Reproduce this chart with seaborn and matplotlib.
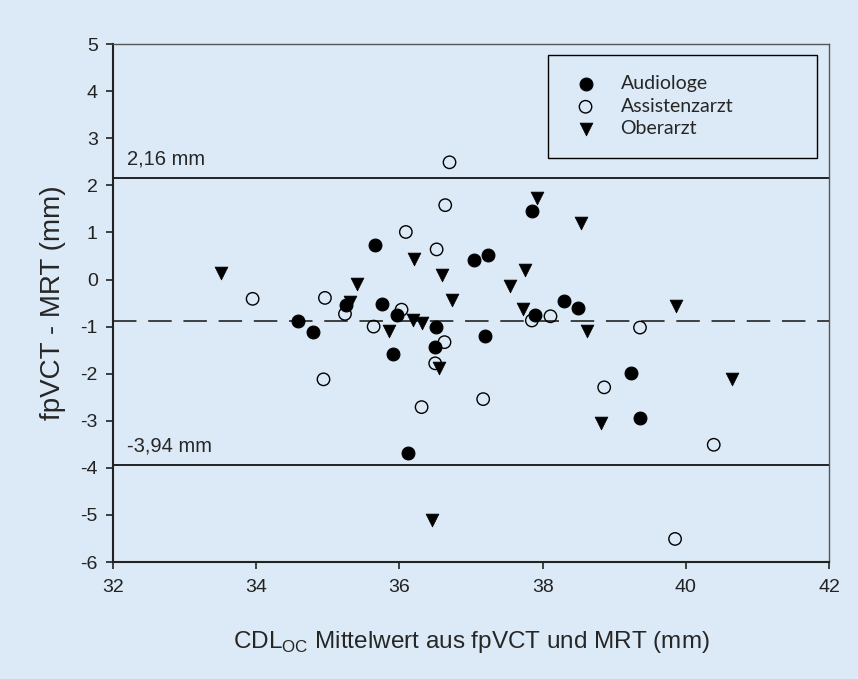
import pandas as pd
import seaborn as sns
from matplotlib import pyplot as plt

# Werte (Mittelwert, Differenz)
audio_x = [34.59, 34.79, 35.26, 35.66, 35.76, 35.96, 35.91, 36.51, 36.50, 36.12,
           37.04, 37.24, 37.19, 37.85, 37.89, 38.30, 38.49, 39.24, 39.36]
audio_y = [-0.88, -1.11, -0.55, 0.73, -0.53, -0.76, -1.58, -1.00, -1.43, -3.69,
           0.42, 0.52, -1.21, 1.46, -0.75, -0.46, -0.61, -1.99, -2.94]

assist_x = [33.95, 34.96, 34.94, 35.24, 35.64, 36.03, 36.09, 36.52, 36.64, 36.70,
            36.63, 36.50, 36.31, 37.17, 37.85, 38.11, 38.86, 39.36, 40.39, 39.85]
assist_y = [-0.41, -0.39, -2.12, -0.73, -1.00, -0.64, 1.01, 0.64, 1.58, 2.49,
            -1.33, -1.78, -2.71, -2.54, -0.87, -0.78, -2.29, -1.02, -3.51, -5.51]

ober_x = [33.51, 35.31, 35.41, 35.85, 36.19, 36.31, 36.20, 36.60, 36.73, 36.55,
          36.46, 37.55, 37.75, 37.73, 37.92, 38.53, 38.62, 38.81, 39.86, 40.65]
ober_y = [0.14, -0.48, -0.10, -1.10, -0.85, -0.92, 0.44, 0.10, -0.43, -1.87,
          -5.11, -0.14, 0.21, -0.62, 1.73, 1.20, -1.10, -3.05, -0.57, -2.11]

upper_loa = 2.16
lower_loa = -3.94
mean_diff = -0.89
x_ticks = [32, 34, 36, 38, 40, 42]
y_ticks = [5, 4, 3, 2, 1, 0, -1, -2, -3, -4, -5, -6]

bg = '#dce9f6'
sns.set_style('ticks')
plt.rcParams['font.family'] = ['Liberation Sans', 'DejaVu Sans']
plt.rcParams['axes.unicode_minus'] = False

df_a = pd.DataFrame({'x': audio_x, 'y': audio_y})
df_b = pd.DataFrame({'x': assist_x, 'y': assist_y})
df_c = pd.DataFrame({'x': ober_x, 'y': ober_y})

fig = plt.figure(figsize=(8.58, 6.79), dpi=100, facecolor=bg)
ax = fig.add_axes([0.1317, 0.1723, 0.8345, 0.7627])
ax.set_facecolor(bg)

ax.axhline(upper_loa, color='#222222', lw=1.4, zorder=1)
ax.axhline(lower_loa, color='#222222', lw=1.4, zorder=1)
ax.axhline(mean_diff, color='#333333', lw=1.3, dashes=(13, 6.5), zorder=1)

sns.scatterplot(data=df_a, x='x', y='y', ax=ax, marker='o', s=85, color='black',
                edgecolor='black', linewidth=0.8, label='Audiologe', zorder=3)
sns.scatterplot(data=df_b, x='x', y='y', ax=ax, marker='o', s=80, facecolor='none',
                edgecolor='black', linewidth=1.0, label='Assistenzarzt', zorder=3)
sns.scatterplot(data=df_c, x='x', y='y', ax=ax, marker='v', s=85, color='black',
                edgecolor='black', linewidth=0.5, label='Oberarzt', zorder=3)

ax.text(32.2, upper_loa + 0.2, '2,16 mm', fontsize=14.5, va='bottom', ha='left')
ax.text(32.2, lower_loa + 0.21, '-3,94 mm', fontsize=14.5, va='bottom', ha='left')

ax.set_xlim(32, 42)
ax.set_ylim(-6, 5)
ax.set_xticks(x_ticks)
ax.set_yticks(y_ticks)
ax.tick_params(direction='out', length=5, width=1.2, labelsize=14, colors='#222222')
ax.tick_params(axis='y', pad=6)
ax.tick_params(axis='x', pad=7)
for side in ['left', 'bottom']:
    ax.spines[side].set_color('#222222')
    ax.spines[side].set_linewidth(1.5)
for side in ['top', 'right']:
    ax.spines[side].set_color('#555555')
    ax.spines[side].set_linewidth(1.0)

ax.set_xlabel('CDL$_{\\mathregular{OC}}$ Mittelwert aus fpVCT und MRT (mm)', fontsize=17.5, labelpad=24)
ax.set_ylabel('fpVCT - MRT (mm)', fontsize=20, labelpad=10)

leg = ax.legend(loc='upper right', bbox_to_anchor=(0.607, 0.795, 0.376, 0.184), mode='expand',
                frameon=True, fancybox=False, edgecolor='black', facecolor=bg, framealpha=1,
                prop={'family': 'Lato', 'size': 14}, borderpad=1.05, labelspacing=0.28,
                handletextpad=0.9, borderaxespad=0, handlelength=1.8)
leg.get_frame().set_linewidth(1.0)

fig.savefig('out.png', dpi=100, facecolor=bg)
